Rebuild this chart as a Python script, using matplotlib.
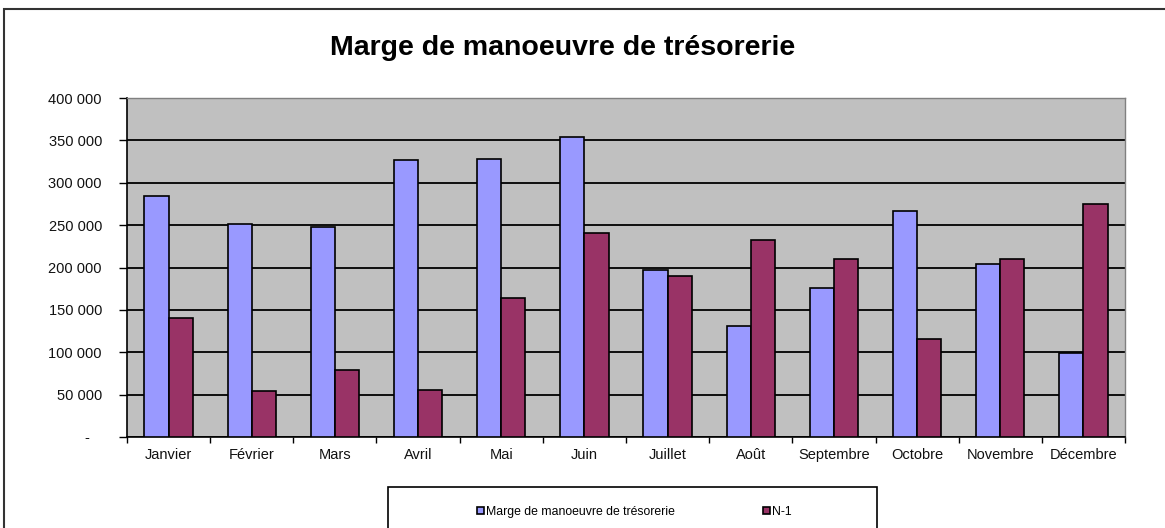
import matplotlib
matplotlib.use("Agg")
import matplotlib.pyplot as plt
from matplotlib.patches import Rectangle
from matplotlib.ticker import FixedLocator, FuncFormatter
import numpy as np

plt.rcParams['font.family'] = ['Liberation Sans', 'DejaVu Sans']

mois = ["Janvier", "Février", "Mars", "Avril", "Mai", "Juin", "Juillet",
        "Août", "Septembre", "Octobre", "Novembre", "Décembre"]
marge = [284000, 251000, 248000, 326500, 328000, 354500, 196500,
         131500, 176000, 267000, 204500, 99000]
n_1 = [141000, 54000, 79000, 56000, 164000, 241000, 190500,
       232500, 210000, 115500, 210000, 275500]
serie_labels = ["Marge de manoeuvre de trésorerie", "N-1"]
titre = "Marge de manoeuvre de trésorerie"

W, H = 1165, 528
fig = plt.figure(figsize=(W / 100, H / 100), dpi=100)
fig.patch.set_facecolor("white")

ax = fig.add_axes([127 / W, 1 - 437 / H, (1125 - 127) / W, (437 - 98) / H])
ax.set_facecolor("#C0C0C0")

x = np.arange(len(mois))
bw = 0.29
b1 = ax.bar(x - bw / 2, marge, bw, color="#9999FF", edgecolor="black",
            linewidth=1.2, zorder=3, label=serie_labels[0])
b2 = ax.bar(x + bw / 2, n_1, bw, color="#993366", edgecolor="black",
            linewidth=1.2, zorder=3, label=serie_labels[1])

ax.set_xlim(-0.5, len(mois) - 0.5)
ax.set_ylim(0, 400000)
ax.set_yticks(np.arange(0, 400001, 50000))
ax.yaxis.set_major_formatter(FuncFormatter(
    lambda v, p: "-   " if v == 0 else f"{int(v):,}".replace(",", " ")))
ax.grid(axis="y", color="black", linewidth=1.3, zorder=1)
ax.set_axisbelow(True)

ax.set_xticks(x)
ax.set_xticklabels(mois, fontsize=10.5, color="#111111")
ax.tick_params(axis="x", which="major", length=0, pad=8)
ax.xaxis.set_minor_locator(FixedLocator(np.arange(-0.5, len(mois), 1.0)))
ax.tick_params(axis="x", which="minor", length=4, width=1, color="black", direction="out")
ax.tick_params(axis="y", length=6, width=1, color="black", direction="out",
               labelsize=10.5, labelcolor="#111111", pad=12)

for s in ["left", "bottom"]:
    ax.spines[s].set_color("black")
    ax.spines[s].set_linewidth(1.2)
for s in ["top", "right"]:
    ax.spines[s].set_color("#808080")
    ax.spines[s].set_linewidth(1.0)

fig.text(563 / W, 1 - 48 / H, titre, ha="center", va="center",
         fontsize=20.5, fontweight="bold")

# outer chart border
fig.patches.append(Rectangle((4 / W, -0.1), 1.2, 1 - 9 / H + 0.1,
                             transform=fig.transFigure, fill=False,
                             edgecolor="#333333", linewidth=1.5))
# legend box
fig.patches.append(Rectangle((388 / W, -0.1), (877 - 388) / W, 1 - 487 / H + 0.1,
                             transform=fig.transFigure, fill=False,
                             edgecolor="black", linewidth=1.2))

common = dict(loc="center left", frameon=False, fontsize=8.8,
              handlelength=0.55, handleheight=0.55, handletextpad=0.15,
              borderpad=0, borderaxespad=0)
fig.legend(handles=[b1], labels=[serie_labels[0]],
           bbox_to_anchor=(477 / W, 1 - 512 / H), **common)
fig.legend(handles=[b2], labels=[serie_labels[1]],
           bbox_to_anchor=(763 / W, 1 - 512 / H), **common)

fig.savefig("out.png", dpi=100)
